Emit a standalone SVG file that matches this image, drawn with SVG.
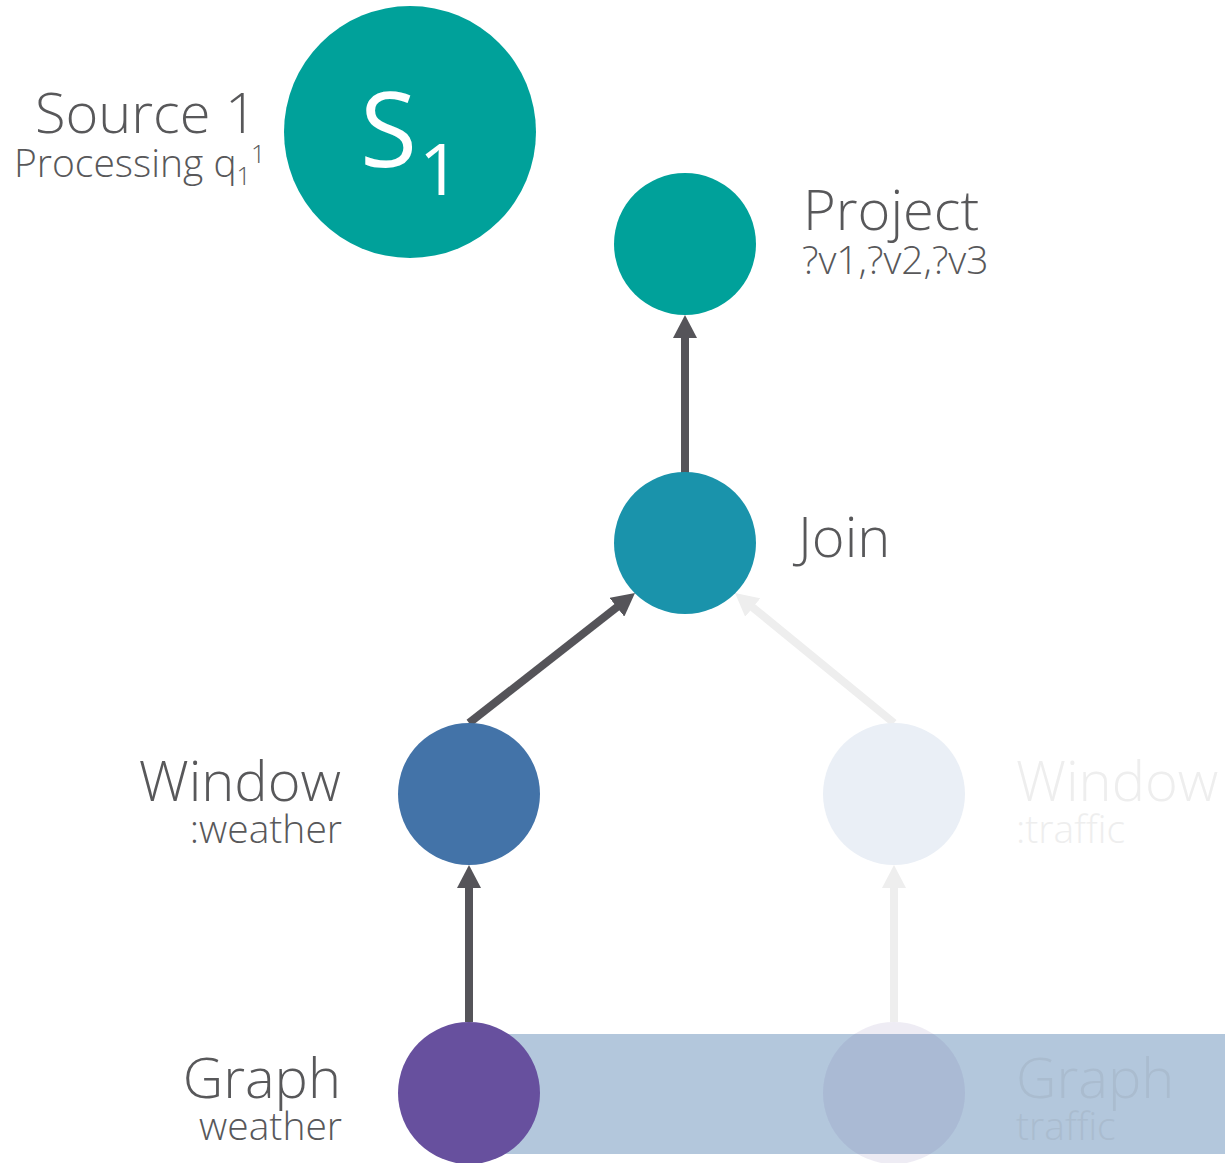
<svg xmlns="http://www.w3.org/2000/svg" width="1225" height="1163" viewBox="0 0 1225 1163">
  <style>
    text { font-family: "Open Sans", "Noto Sans", "Liberation Sans", sans-serif; font-weight: 300; }
    .big { font-size: 56px; fill: #58585a; }
    .small { font-size: 39px; fill: #58585a; }
    .badge { font-weight: 400; fill: #ffffff; }
    .ghost { fill: #eeeeee; }
    .ghost-band { fill: #aabccf; }
    .edge { stroke: #555459; stroke-width: 8; fill: none; }
    .edge-faded { stroke: #eeeeee; stroke-width: 8; fill: none; }
  </style>
  <defs>
    <marker id="head" markerUnits="userSpaceOnUse" markerWidth="23" markerHeight="24" refX="7" refY="12" orient="auto">
      <path d="M0,0 L23,12 L0,24 z" fill="#555459"/>
    </marker>
    <marker id="head-faded" markerUnits="userSpaceOnUse" markerWidth="23" markerHeight="24" refX="7" refY="12" orient="auto">
      <path d="M0,0 L23,12 L0,24 z" fill="#eeeeee"/>
    </marker>
  </defs>

  <rect width="1225" height="1163" fill="#ffffff"/>

  <!-- highlighted band behind the graph row -->
  <rect id="band" x="469" y="1034" width="756" height="120" fill="#b3c7dc"/>

  <g id="connectors">
    <line class="edge" x1="685" y1="473" x2="685" y2="331" marker-end="url(#head)"/>
    <line class="edge" x1="469" y1="723" x2="622.4" y2="602.9" marker-end="url(#head)"/>
    <line class="edge-faded" x1="894" y1="723" x2="747.4" y2="603.1" marker-end="url(#head-faded)"/>
    <line class="edge" x1="469" y1="1022" x2="469" y2="881" marker-end="url(#head)"/>
    <line class="edge-faded" x1="894" y1="1022" x2="894" y2="881" marker-end="url(#head-faded)"/>
  </g>

  <g id="source">
    <circle cx="410" cy="132" r="126" fill="#00a19a"/>
    <text class="badge" x="360" y="167" font-size="104">S</text>
    <text class="badge" x="419" y="195" font-size="72">1</text>
    <text class="big" x="257" y="133" text-anchor="end">Source 1</text>
    <text class="small" x="14" y="177">Processing q<tspan font-size="25" dy="8">1</tspan><tspan font-size="25" dy="-22">1</tspan></text>
  </g>

  <g id="project">
    <circle cx="685" cy="244" r="71" fill="#00a19a"/>
    <text class="big" x="803" y="230">Project</text>
    <text class="small" x="802" y="274">?v1,?v2,?v3</text>
  </g>

  <g id="join">
    <circle cx="685" cy="543" r="71" fill="#1a93ab"/>
    <text class="big" x="798" y="557">Join</text>
  </g>

  <g id="window-weather">
    <circle cx="469" cy="794" r="71" fill="#4373a8"/>
    <text class="big" x="341" y="801" text-anchor="end">Window</text>
    <text class="small" x="342" y="843" text-anchor="end">:weather</text>
  </g>

  <g id="window-traffic">
    <circle cx="894" cy="794" r="71" fill="#eaeff6"/>
    <text class="big ghost" x="1016" y="801">Window</text>
    <text class="small ghost" x="1016" y="843">:traffic</text>
  </g>

  <g id="graph-weather">
    <circle cx="469" cy="1093" r="71" fill="#67509e"/>
    <text class="big" x="341" y="1098" text-anchor="end">Graph</text>
    <text class="small" x="342" y="1140" text-anchor="end">weather</text>
  </g>

  <g id="graph-traffic">
    <circle cx="894" cy="1093" r="71" fill="#67509e" fill-opacity="0.11"/>
    <text class="big ghost-band" x="1016" y="1098">Graph</text>
    <text class="small ghost-band" x="1016" y="1140">traffic</text>
  </g>
</svg>
